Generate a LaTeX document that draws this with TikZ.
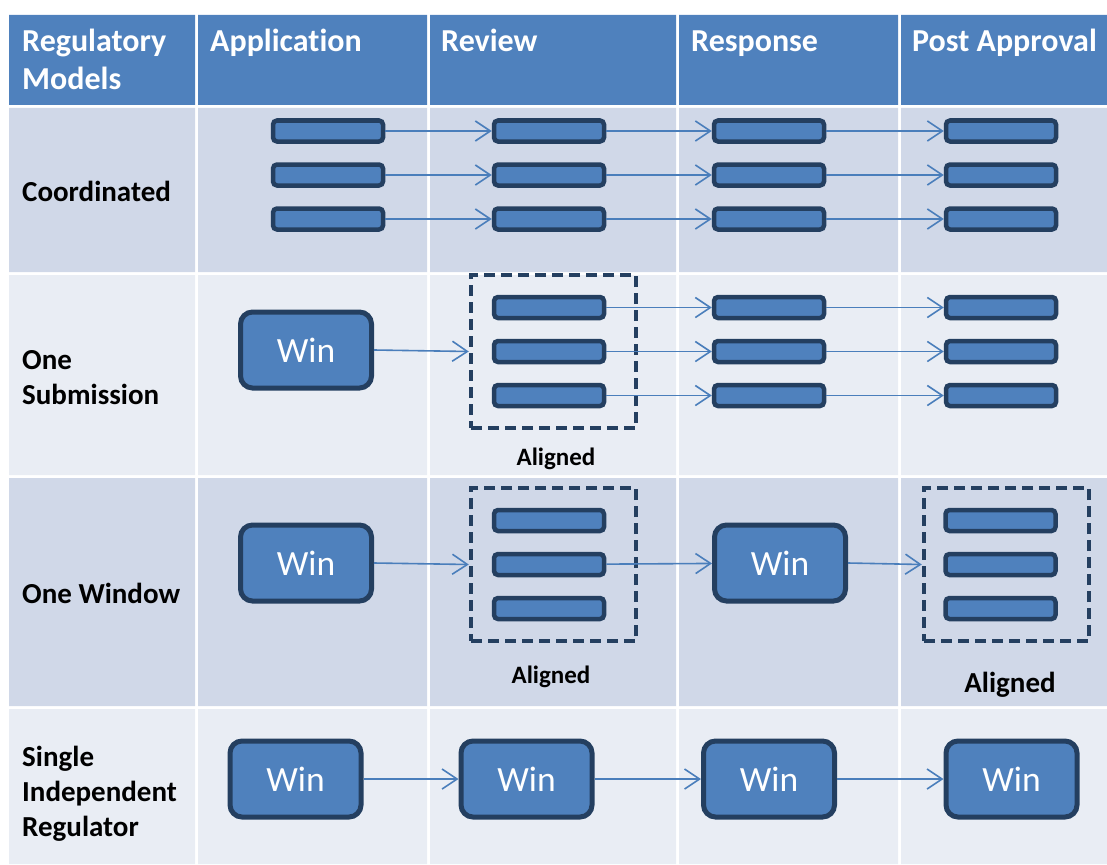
\documentclass[tikz,border=0pt]{standalone}
\usepackage{fontspec}
\setmainfont{Carlito}[Ligatures=NoCommon]
\usetikzlibrary{positioning, arrows.meta}

\definecolor{hdrblue}{HTML}{4F81BD}
\definecolor{darkrow}{HTML}{D0D8E8}
\definecolor{lightrow}{HTML}{E9EDF4}
\definecolor{edgeblue}{HTML}{243F60}
\definecolor{flowblue}{HTML}{4A7EBB}

\tikzset{
	bar/.style={draw=edgeblue, fill=hdrblue, line width=4.5pt, rounded corners=4pt,
		minimum width=110pt, minimum height=21pt, inner sep=0pt},
	winbox/.style={draw=edgeblue, fill=hdrblue, line width=5pt, rounded corners=12pt,
		minimum width=131pt, minimum height=76pt, inner sep=0pt, text=white,
		font=\fontsize{35.5}{40}\selectfont},
	alignbox/.style={draw=edgeblue, line width=4.5pt, dash pattern=on 11pt off 6pt,
		minimum width=165pt, minimum height=153pt, inner sep=0pt},
	flow/.style={draw=flowblue, line width=1.6pt, -{Straight Barb[length=15pt,width=20pt]}},
	hdr/.style={text=white, font=\bfseries\fontsize{32}{38}\selectfont, anchor=base west,
		align=left, inner sep=0pt},
	rowlbl/.style={font=\bfseries\fontsize{29}{35}\selectfont, anchor=base west,
		align=left, inner sep=0pt},
	alignlbl/.style={font=\bfseries\fontsize{25}{30}\selectfont, anchor=base, inner sep=0pt}
}

\begin{document}
\begin{tikzpicture}[x=1pt,y=-1pt]
	\useasboundingbox (0,0) rectangle (1107,864);
	% cells
	\fill[hdrblue] (9,15) rectangle (195,105) (198,15) rectangle (427,105)
		(430,15) rectangle (676,105) (679,15) rectangle (898,105) (901,15) rectangle (1107,105);
	\fill[darkrow] (9,108) rectangle (195,272) (198,108) rectangle (427,272)
		(430,108) rectangle (676,272) (679,108) rectangle (898,272) (901,108) rectangle (1107,272);
	\fill[lightrow] (9,275) rectangle (195,475) (198,275) rectangle (427,475)
		(430,275) rectangle (676,475) (679,275) rectangle (898,475) (901,275) rectangle (1107,475);
	\fill[darkrow] (9,478) rectangle (195,706) (198,478) rectangle (427,706)
		(430,478) rectangle (676,706) (679,478) rectangle (898,706) (901,478) rectangle (1107,706);
	\fill[lightrow] (9,709) rectangle (195,864) (198,709) rectangle (427,864)
		(430,709) rectangle (676,864) (679,709) rectangle (898,864) (901,709) rectangle (1107,864);

	% header (base = last line)
	\draw node (hreg)[hdr] at (22,90){Regulatory\\Models};
	\draw node (happ)[hdr] at (210,52){Application};
	\draw node (hrev)[hdr] at (441,52){Review};
	\draw node (hres)[hdr] at (691,52){Response};
	\draw node (hpost)[hdr] at (912,52){Post Approval};

	% row labels
	\draw node (lcoord)[rowlbl] at (22,201){Coordinated};
	\draw node (lsub)[rowlbl] at (22,404){One\\Submission};
	\draw node (lwin)[rowlbl] at (22,603){One Window};
	\draw node (lsir)[rowlbl] at (22,836){Single\\Independent\\Regulator};

	% coordinated
	\draw node (app1)[bar] at (328,131){};
	\draw node (app2)[bar,below=18.5pt of app1]{};
	\draw node (app3)[bar,below=18.5pt of app2]{};
	\draw node (rev1)[bar] at (549,131){};
	\draw node (rev2)[bar,below=18.5pt of rev1]{};
	\draw node (rev3)[bar,below=18.5pt of rev2]{};
	\draw node (res1)[bar] at (769,131){};
	\draw node (res2)[bar,below=18.5pt of res1]{};
	\draw node (res3)[bar,below=18.5pt of res2]{};
	\draw node (post1)[bar] at (1001,131){};
	\draw node (post2)[bar,below=18.5pt of post1]{};
	\draw node (post3)[bar,below=18.5pt of post2]{};
	\draw[flow] (app1)--(rev1);
	\draw[flow] (app2)--(rev2);
	\draw[flow] (app3)--(rev3);
	\draw[flow] (rev1)--(res1);
	\draw[flow] (rev2)--(res2);
	\draw[flow] (rev3)--(res3);
	\draw[flow] (res1)--(post1);
	\draw[flow] (res2)--(post2);
	\draw[flow] (res3)--(post3);

	% one submission
	\draw node (sapp)[winbox] at (306,350){Win};
	\draw node (sbox)[alignbox] at (553.5,351.5){};
	\draw node (srev1)[bar] at (549,307.5){};
	\draw node (srev2)[bar,below=18.5pt of srev1]{};
	\draw node (srev3)[bar,below=18.5pt of srev2]{};
	\draw node (sres1)[bar] at (769,307.5){};
	\draw node (sres2)[bar,below=18.5pt of sres1]{};
	\draw node (sres3)[bar,below=18.5pt of sres2]{};
	\draw node (spost1)[bar] at (1001,307.5){};
	\draw node (spost2)[bar,below=18.5pt of spost1]{};
	\draw node (spost3)[bar,below=18.5pt of spost2]{};
	\draw node (salign)[alignlbl] at (556,465){Aligned};
	\draw[flow] (sapp.east)--(sbox.west);
	\draw[flow] (srev1)--(sres1);
	\draw[flow] (srev2)--(sres2);
	\draw[flow] (srev3)--(sres3);
	\draw[flow] (sres1)--(spost1);
	\draw[flow] (sres2)--(spost2);
	\draw[flow] (sres3)--(spost3);

	% one window
	\draw node (wapp)[winbox] at (306,563){Win};
	\draw node (wbox)[alignbox] at (553.5,564.5){};
	\draw node (wrev1)[bar] at (549,520.5){};
	\draw node (wrev2)[bar,below=18.5pt of wrev1]{};
	\draw node (wrev3)[bar,below=18.5pt of wrev2]{};
	\draw node (wres)[winbox] at (780,563){Win};
	\draw node (wpbox)[alignbox] at (1006.5,564.5){};
	\draw node (wpost1)[bar] at (1000.5,520.5){};
	\draw node (wpost2)[bar,below=18.5pt of wpost1]{};
	\draw node (wpost3)[bar,below=18.5pt of wpost2]{};
	\draw node (walign)[alignlbl] at (551,683){Aligned};
	\draw node (wpalign)[alignlbl,font=\bfseries\fontsize{29}{34}\selectfont] at (1010,692){Aligned};
	\draw[flow] (wapp.east)--(wbox.west);
	\draw[flow] (wrev2)--(wres);
	\draw[flow] (wres.east)--(wpbox.west);

	% single independent regulator
	\draw node (iapp)[winbox] at (295.5,779){Win};
	\draw node (irev)[winbox] at (526.5,779){Win};
	\draw node (ires)[winbox] at (769,779){Win};
	\draw node (ipost)[winbox] at (1011.5,779){Win};
	\draw[flow] (iapp)--(irev);
	\draw[flow] (irev)--(ires);
	\draw[flow] (ires)--(ipost);
\end{tikzpicture}
\end{document}
